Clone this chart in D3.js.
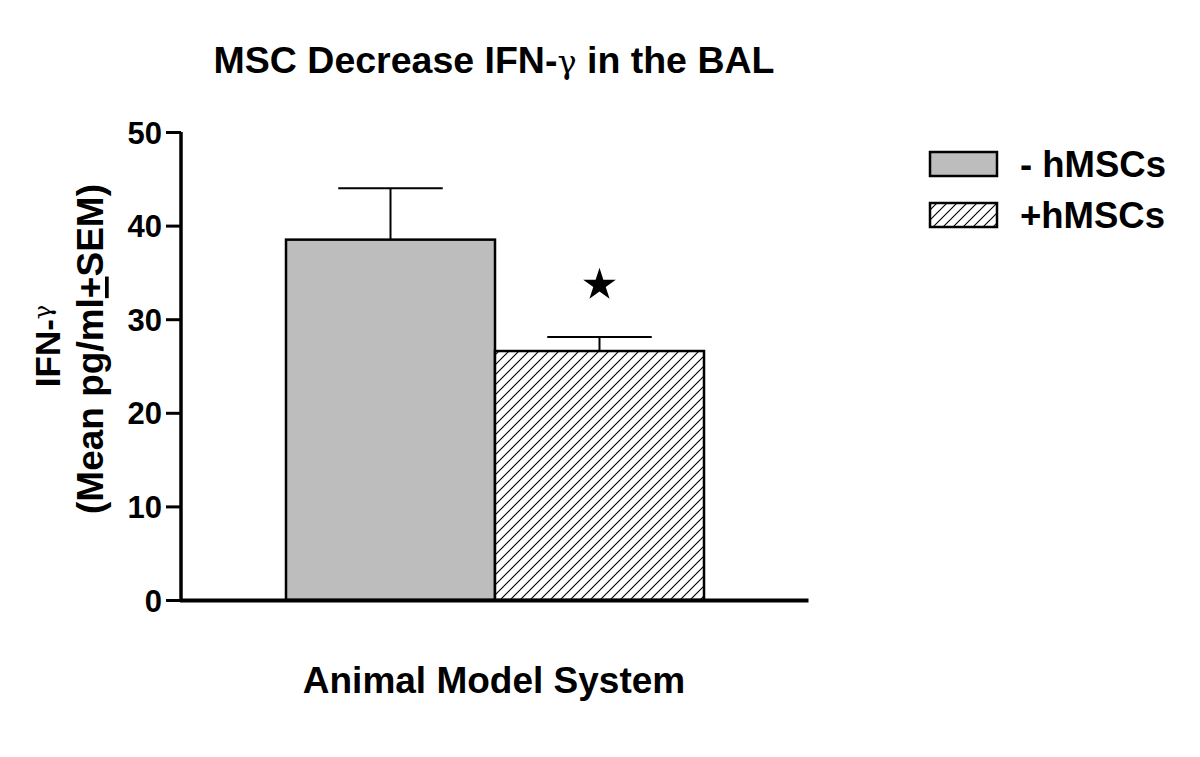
<!DOCTYPE html>
<html><head><meta charset="utf-8">
<script src="https://cdn.jsdelivr.net/npm/d3@7"></script>
<style>body{margin:0;background:#fff}svg{display:block}text{font-family:"Liberation Sans",Arial,sans-serif;font-weight:bold;fill:#000}</style>
</head><body><svg id="c" width="1200" height="757"></svg>
<script>
const series = ["- hMSCs", "+hMSCs"];
const means = [38.5, 26.6];
const sems = [5.5, 1.5];
const significant = [false, true];
const yTicks = [0, 10, 20, 30, 40, 50];
const titleMain = "MSC Decrease IFN-";
const titleRest = " in the BAL";
const gamma = "\u03b3";
const xLabel = "Animal Model System";

const svg = d3.select("#c");
const defs = svg.append("defs");
const pat = defs.append("pattern").attr("id","hatch").attr("patternUnits","userSpaceOnUse")
  .attr("width",10).attr("height",10);
pat.append("rect").attr("width",10).attr("height",10).attr("fill","#fff");
pat.append("path").attr("d","M-2,12 L12,-2 M-2,2 L2,-2 M8,12 L12,8").attr("stroke","#000").attr("stroke-width",1.1);

const fills = ["#bdbdbd","url(#hatch)"];
const y = d3.scaleLinear().domain([0,50]).range([600,132]);
const x = d3.scaleBand().domain(series).range([286,704]).padding(0);
const axisX0 = 181, axisX1 = 808;

// bars
svg.selectAll("rect.bar").data(series).join("rect").attr("class","bar")
  .attr("x",d=>x(d)).attr("width",x.bandwidth())
  .attr("y",(d,i)=>y(means[i])).attr("height",(d,i)=>y(0)-y(means[i]))
  .attr("fill",(d,i)=>fills[i]).attr("stroke","#000").attr("stroke-width",2.5);

// error bars
series.forEach((s,i)=>{
  const cx = x(s)+x.bandwidth()/2;
  const top = y(means[i]+sems[i]);
  svg.append("line").attr("x1",cx).attr("x2",cx).attr("y1",y(means[i])).attr("y2",top).attr("stroke","#000").attr("stroke-width",2);
  svg.append("line").attr("x1",cx-x.bandwidth()/4).attr("x2",cx+x.bandwidth()/4).attr("y1",top).attr("y2",top).attr("stroke","#000").attr("stroke-width",2);
  if (significant[i]) {
    svg.append("path").attr("d",d3.symbol(d3.symbolStar,330)())
      .attr("transform",`translate(${cx},${y(means[i]+sems[i])-52})`).attr("fill","#000");
  }
});

// y axis
const ya = svg.append("g").attr("transform",`translate(${axisX0},0)`)
  .call(d3.axisLeft(y).tickValues(yTicks).tickSize(15).tickPadding(4));
ya.select(".domain").attr("stroke","#000").attr("stroke-width",3.5).attr("d",`M0,${y(50)}V${y(0)}`);
ya.selectAll(".tick line").attr("stroke","#000").attr("stroke-width",3);
ya.selectAll(".tick text").style("font-size","31px").style("font-family","Liberation Sans, Arial, sans-serif").style("font-weight","bold").attr("dy","0.36em");

// x axis line
const xa = d3.scaleLinear().domain([0,1]).range([axisX0-1.5,axisX1]);
svg.append("g").attr("transform",`translate(0,${y(0)})`).call(d3.axisBottom(xa).tickValues([]).tickSizeOuter(0))
  .select(".domain").attr("stroke","#000").attr("stroke-width",4);

// title
const tt = svg.append("text").attr("x",494).attr("y",73).attr("text-anchor","middle").style("font-size","37.5px");
tt.append("tspan").text(titleMain);
tt.append("tspan").style("font-weight","normal").style("font-family","DejaVu Serif, serif").style("font-size","32px").text(gamma);
tt.append("tspan").text(titleRest);
// x label
svg.append("text").attr("x",494).attr("y",693).attr("text-anchor","middle").style("font-size","37px").text(xLabel);
// y labels
const yl1 = svg.append("text").attr("transform","translate(0,346) rotate(-90)").attr("text-anchor","middle").style("font-size","35px");
yl1.append("tspan").attr("x",0).attr("y",60).text("IFN-");
yl1.append("tspan").attr("dy",-9).style("font-weight","normal").style("font-family","DejaVu Serif, serif").style("font-size","24px").text(gamma);
const yl2 = svg.append("text").attr("transform","translate(0,349) rotate(-90)").attr("text-anchor","middle").style("font-size","37px");
const t2 = yl2.append("tspan").attr("x",0).attr("y",103);
t2.append("tspan").text("(Mean pg/ml");
t2.append("tspan").attr("text-decoration","underline").text("+");
t2.append("tspan").text("SEM)");

// legend
const lg = svg.append("g");
series.forEach((s,i)=>{
  const yy = 152 + i*51;
  lg.append("rect").attr("x",930).attr("y",yy).attr("width",67).attr("height",24).attr("fill",fills[i]).attr("stroke","#000").attr("stroke-width",2.5);
  lg.append("text").attr("x",1020).attr("y",yy+25).style("font-size","36.5px").text(s);
});
</script></body></html>
